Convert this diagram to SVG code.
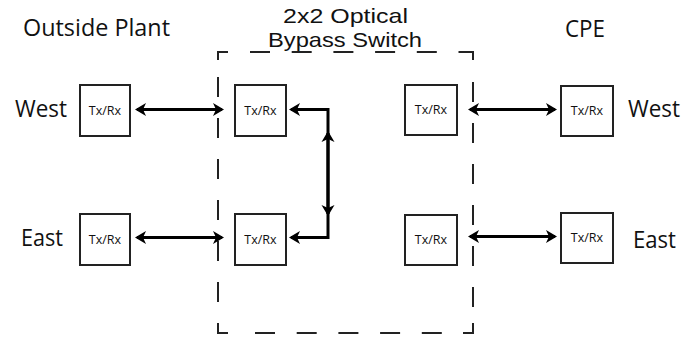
<svg xmlns="http://www.w3.org/2000/svg" width="698" height="337" viewBox="0 0 698 337">
<style>
.lbl{font-family:"Open Sans","Liberation Sans",sans-serif;font-size:23px;fill:#111}
.ttl{font-family:"Liberation Sans","Open Sans",sans-serif;font-size:21px;fill:#111}
.tx{font-family:"Open Sans","Liberation Sans",sans-serif;font-size:12.5px;fill:#111;text-anchor:middle}
.box{fill:#fff;stroke:#222;stroke-width:2}
.dash{fill:none;stroke:#222;stroke-width:2}
.conn{fill:none;stroke:#000;stroke-width:3}
</style>
<defs>
<marker id="ah" markerUnits="userSpaceOnUse" viewBox="-12 -8 16 16" refX="0" refY="0" markerWidth="16" markerHeight="16" orient="auto-start-reverse">
<path d="M-9,-6.5 L2,0 L-9,6.5 L-6,0 z" fill="#000"/>
</marker>
</defs>
<rect width="698" height="337" fill="#fff"/>
<g id="titles">
<text class="lbl" x="23" y="36" textLength="147" lengthAdjust="spacingAndGlyphs">Outside Plant</text>
<text class="ttl" x="283" y="23" textLength="125" lengthAdjust="spacingAndGlyphs">2x2 Optical</text>
<text class="ttl" x="268" y="47" textLength="154" lengthAdjust="spacingAndGlyphs">Bypass Switch</text>
<text class="lbl" x="565" y="37" textLength="40" lengthAdjust="spacingAndGlyphs">CPE</text>
<text class="lbl" x="15" y="117" textLength="52" lengthAdjust="spacingAndGlyphs">West</text>
<text class="lbl" x="21" y="246" textLength="42" lengthAdjust="spacingAndGlyphs">East</text>
<text class="lbl" x="628" y="117" textLength="52" lengthAdjust="spacingAndGlyphs">West</text>
<text class="lbl" x="633" y="248" textLength="43" lengthAdjust="spacingAndGlyphs">East</text>
</g>
<g id="switch-boundary">
<path class="dash" d="M228,52 H218 V60 M218,323 V333 H228 M463,52 H473 V60 M473,323 V333 H463"/>
<path class="dash" d="M250,52 H463" stroke-dasharray="20 21.7"/>
<path class="dash" d="M255,333 H463" stroke-dasharray="20 21.7"/>
<path class="dash" d="M218,77 V323" stroke-dasharray="20 21"/>
<path class="dash" d="M473,82 V323" stroke-dasharray="20 21"/>
</g>
<g id="op-west"><rect class="box" x="80" y="85" width="50" height="51"/><text class="tx" x="105" y="115">Tx/Rx</text></g>
<g id="op-east"><rect class="box" x="80" y="214" width="50" height="51"/><text class="tx" x="105" y="244">Tx/Rx</text></g>
<g id="sw-west"><rect class="box" x="235" y="85" width="51" height="51"/><text class="tx" x="260.5" y="115">Tx/Rx</text></g>
<g id="sw-east"><rect class="box" x="235" y="214" width="51" height="51"/><text class="tx" x="260.5" y="244">Tx/Rx</text></g>
<g id="sw-west-r"><rect class="box" x="405" y="85" width="52" height="50"/><text class="tx" x="431" y="114">Tx/Rx</text></g>
<g id="sw-east-r"><rect class="box" x="405" y="215" width="52" height="50"/><text class="tx" x="431" y="244">Tx/Rx</text></g>
<g id="cpe-west"><rect class="box" x="561" y="86" width="52" height="50"/><text class="tx" x="587" y="115">Tx/Rx</text></g>
<g id="cpe-east"><rect class="box" x="561" y="213" width="52" height="50"/><text class="tx" x="587" y="242">Tx/Rx</text></g>
<g id="connectors">
<path class="conn" d="M137,109.5 H222" marker-start="url(#ah)" marker-end="url(#ah)"/>
<path class="conn" d="M137,237.5 H222" marker-start="url(#ah)" marker-end="url(#ah)"/>
<path class="conn" d="M291,109.5 H328 V237.5 H291" marker-start="url(#ah)" marker-end="url(#ah)"/>
<path class="conn" d="M328,133 V214" marker-start="url(#ah)" marker-end="url(#ah)"/>
<path class="conn" d="M470,109.5 H555" marker-start="url(#ah)" marker-end="url(#ah)"/>
<path class="conn" d="M470,236.5 H555" marker-start="url(#ah)" marker-end="url(#ah)"/>
</g>
</svg>
